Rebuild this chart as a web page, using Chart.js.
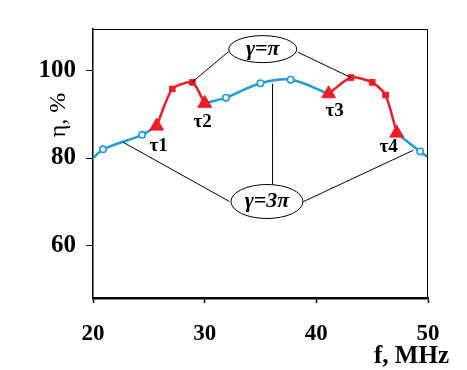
<!DOCTYPE html>
<html>
<head>
<meta charset="utf-8">
<script src="https://cdn.jsdelivr.net/npm/chart.js@4.4.1/dist/chart.umd.min.js"></script>
<style>
html, body { margin: 0; padding: 0; background: #fff; }
#wrap { width: 467px; height: 370px; }
</style>
</head>
<body>
<div id="wrap"><canvas id="c"></canvas></div>
<script>
const xTicks = [20, 30, 40, 50];
const yTicks = [60, 80, 100];

// γ=3π curve (blue), null = break between segments
const f3pi   = [20, 20.9, 24.4, 25.7, null, 30.0, 31.9, 35.0, 37.7, 41.1, null, 47.2, 49.3, 50];
const eta3pi = [80.0, 82.0, 85.3, 87.3, null, 92.5, 93.8, 97.1, 97.9, 94.7, null, 85.7, 81.5, 80.2];

// γ=π curve (red)
const fpi   = [25.7, 27.1, 28.9, 30.0, null, 41.1, 43.1, 45.0, 46.2, 47.2];
const etapi = [87.3, 95.8, 97.3, 92.5, null, 94.7, 98.4, 97.3, 94.4, 85.7];

// switching points
const tauNames = ['τ1', 'τ2', 'τ3', 'τ4'];
const tauF     = [25.7, 30.0, 41.1, 47.2];
const tauEta   = [87.3, 92.5, 94.7, 85.7];

const BLUE = '#1e9bd9';
const RED  = '#ee1c25';
const SERIF = '"Liberation Serif", "Times New Roman", serif';

const pts = (xs, ys) => xs.map((v, i) => ({ x: v, y: ys[i] }));
// no marker on a segment's ends
const inner = (arr, r) => ctx => {
    const i = ctx.dataIndex;
    const atEnd = i === 0 || i === arr.length - 1 || arr[i - 1] === null || arr[i + 1] === null;
    return atEnd ? 0 : r;
};

const notes = {
    id: 'notes',
    afterDatasetsDraw(chart) {
        const { ctx, chartArea: a, scales: { x, y } } = chart;
        const P = (f, e) => [x.getPixelForValue(f), y.getPixelForValue(e)];

        ctx.save();
        // frame top / right
        ctx.strokeStyle = '#000';
        ctx.lineWidth = 1;
        ctx.beginPath();
        ctx.moveTo(a.left, a.top + 0.5);
        ctx.lineTo(a.right - 0.5, a.top + 0.5);
        ctx.lineTo(a.right - 0.5, a.bottom);
        ctx.stroke();

        const ellipses = [
            { text: 'γ=π',  f: 35.2,  eta: 104.9, rx: 34, ry: 13.5,
              leads: [[28.85, 97.3, -34, 2.4], [43.1, 98.4, 35, 3]] },
            { text: 'γ=3π', f: 35.58, eta: 70.06, rx: 36, ry: 17,
              leads: [[22.7, 83.6, -37.5, 0], [36.08, 96.96, 5.6, -16.8], [48.7, 81.8, 36, 0.3]] }
        ];
        ellipses.forEach(el => {
            const [cx, cy] = P(el.f, el.eta);
            ctx.strokeStyle = '#000';
            ctx.lineWidth = 1;
            el.leads.forEach(l => {
                const [px, py] = P(l[0], l[1]);
                ctx.beginPath();
                ctx.moveTo(px, py);
                ctx.lineTo(cx + l[2], cy + l[3]);
                ctx.stroke();
            });
            ctx.beginPath();
            ctx.ellipse(cx, cy, el.rx, el.ry, 0, 0, Math.PI * 2);
            ctx.fillStyle = '#fff';
            ctx.fill();
            ctx.stroke();
            ctx.fillStyle = '#000';
            ctx.font = 'italic bold 22px ' + SERIF;
            ctx.textAlign = 'center';
            ctx.textBaseline = 'middle';
            ctx.fillText(el.text, cx, cy);
        });

        // τ labels
        const offs = [[2, 20], [-2, 19], [6, 17], [-8, 14]];
        ctx.font = 'bold 19px ' + SERIF;
        ctx.textAlign = 'center';
        ctx.textBaseline = 'middle';
        tauNames.forEach((t, i) => {
            const [px, py] = P(tauF[i], tauEta[i]);
            ctx.fillText(t, px + offs[i][0], py + offs[i][1]);
        });

        // axis titles
        ctx.font = 'bold 25px ' + SERIF;
        ctx.textAlign = 'right';
        ctx.fillText('f, MHz', 449, 357);

        ctx.translate(59, 115);
        ctx.rotate(-Math.PI / 2);
        ctx.font = '24px ' + SERIF;
        ctx.textAlign = 'center';
        ctx.fillText('η, %', 0, 0);
        ctx.restore();
    }
};

new Chart(document.getElementById('c'), {
    type: 'line',
    data: {
        datasets: [
            {
                label: 'τ',
                data: pts(tauF, tauEta),
                showLine: false,
                pointStyle: 'triangle',
                pointRadius: 8,
                pointBackgroundColor: RED,
                pointBorderColor: RED,
                pointBorderWidth: 1,
            },
            {
                label: 'γ=π',
                data: pts(fpi, etapi),
                borderColor: RED,
                borderWidth: 2.5,
                tension: 0.22,
                pointStyle: 'rect',
                pointRadius: inner(fpi, 4),
                pointBackgroundColor: RED,
                pointBorderColor: RED,
                pointBorderWidth: 1,
            },
            {
                label: 'γ=3π',
                data: pts(f3pi, eta3pi),
                borderColor: BLUE,
                borderWidth: 2.5,
                tension: 0.35,
                pointStyle: 'circle',
                pointRadius: inner(f3pi, 3.2),
                pointBackgroundColor: '#fff',
                pointBorderColor: BLUE,
                pointBorderWidth: 1.6,
            }
        ]
    },
    options: {
        responsive: true,
        maintainAspectRatio: false,
        animation: false,
        layout: { padding: { top: 29, right: 39, left: 0, bottom: 0 } },
        plugins: {
            legend: { display: false },
            tooltip: { enabled: false }
        },
        scales: {
            x: {
                type: 'linear',
                min: 20, max: 50,
                afterBuildTicks: s => { s.ticks = xTicks.map(v => ({ value: v })); },
                afterFit: s => { s.height = 72; },
                border: { color: '#000', width: 2.5 },
                grid: { drawOnChartArea: false, tickLength: 5, color: '#000', tickWidth: 1.5 },
                ticks: { color: '#000', padding: 17, font: { family: SERIF, size: 23, weight: 'bold' } }
            },
            y: {
                min: 48, max: 109.5,
                afterBuildTicks: s => { s.ticks = yTicks.map(v => ({ value: v })); },
                afterFit: s => { s.width = 93; },
                border: { color: '#000', width: 1.5 },
                grid: { drawOnChartArea: false, tickLength: 7, color: '#000', tickWidth: 1 },
                ticks: { color: '#000', padding: 10, font: { family: SERIF, size: 25, weight: 'bold' } }
            }
        }
    },
    plugins: [notes]
});
</script>
</body>
</html>
